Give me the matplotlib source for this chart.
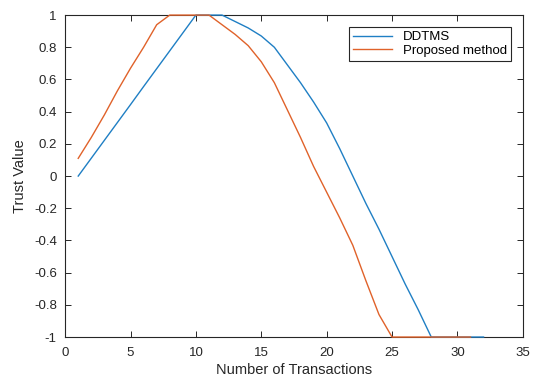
import matplotlib
matplotlib.use('Agg')
from matplotlib import pyplot as plt
from matplotlib.ticker import FuncFormatter

# данные
x_ddtms = list(range(1, 33))
y_ddtms = [0, 0.111, 0.222, 0.333, 0.444, 0.556, 0.667, 0.778, 0.889, 1,
           1, 1, 0.96, 0.92, 0.87, 0.80, 0.69, 0.58, 0.46, 0.33,
           0.17, 0.0, -0.17, -0.33, -0.5, -0.67, -0.83, -1, -1, -1,
           -1, -1]
x_prop = list(range(1, 32))
y_prop = [0.11, 0.24, 0.38, 0.53, 0.67, 0.80, 0.94, 1, 1, 1,
          1, 0.94, 0.88, 0.81, 0.71, 0.58, 0.41, 0.24, 0.06, -0.10,
          -0.26, -0.43, -0.65, -0.86, -1, -1, -1, -1, -1, -1,
          -1]
xticks = [0, 5, 10, 15, 20, 25, 30, 35]
yticks = [-1, -0.8, -0.6, -0.4, -0.2, 0, 0.2, 0.4, 0.6, 0.8, 1]

plt.rcParams['font.family'] = ['Liberation Sans', 'DejaVu Sans']

fig = plt.figure(figsize=(5.34, 3.77), dpi=100)
ax = fig.add_axes([0.122, 0.106, 0.857, 0.854])

ax.plot(x_ddtms, y_ddtms, color='#1f7fc4', lw=1.0, label='DDTMS', clip_on=False, zorder=5)
ax.plot(x_prop, y_prop, color='#e0622a', lw=1.0, label='Proposed method', clip_on=False, zorder=6)

ax.set_xlim(0, 35)
ax.set_ylim(-1, 1)
ax.set_xticks(xticks)
ax.set_yticks(yticks)
ax.yaxis.set_major_formatter(FuncFormatter(lambda v, p: ('%g' % round(v, 1))))
ax.tick_params(direction='in', top=True, right=True, labelsize=9.5,
               colors='#262626', length=4, width=0.7)
ax.tick_params(axis='x', pad=7)
ax.tick_params(axis='y', pad=6)
for s in ax.spines.values():
    s.set_color('#262626')
    s.set_linewidth(0.8)

ax.set_xlabel('Number of Transactions', fontsize=10.5, color='#262626', labelpad=3)
ax.set_ylabel('Trust Value', fontsize=10.5, color='#262626', labelpad=5)

leg = ax.legend(loc='upper right', fontsize=9.5, fancybox=False,
                edgecolor='#262626', framealpha=1, handlelength=3.0,
                borderaxespad=0.9, labelspacing=0.1, borderpad=0.3)
leg.get_frame().set_linewidth(0.8)
leg.set_zorder(10)

fig.savefig('out.png', dpi=100)
